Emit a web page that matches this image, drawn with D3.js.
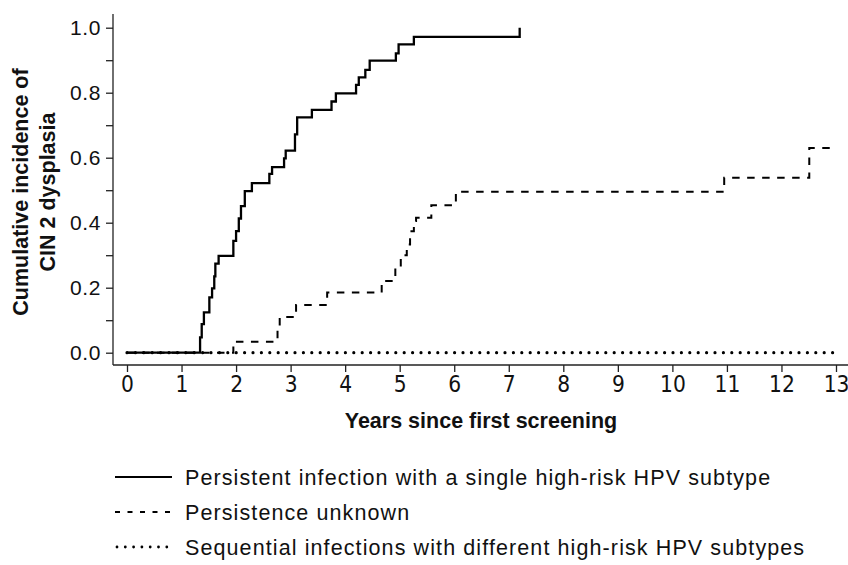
<!DOCTYPE html>
<html>
<head>
<meta charset="utf-8">
<script src="https://cdn.jsdelivr.net/npm/d3@7"></script>
<style>
  html, body { margin: 0; padding: 0; background: #fff; }
  svg { display: block; }
</style>
</head>
<body>
<svg id="chart"></svg>
<script>
// step data: [years, cumulative incidence]
const persistentSteps = [
  [0, 0], [1.34, 0.047], [1.37, 0.088], [1.41, 0.124], [1.51, 0.170], [1.56, 0.198],
  [1.60, 0.235], [1.62, 0.274], [1.68, 0.298], [1.95, 0.344], [2.00, 0.374],
  [2.05, 0.413], [2.09, 0.451], [2.16, 0.497], [2.29, 0.522], [2.61, 0.550],
  [2.66, 0.571], [2.88, 0.598], [2.91, 0.622], [3.08, 0.672], [3.12, 0.724],
  [3.39, 0.747], [3.75, 0.773], [3.83, 0.798], [4.20, 0.824], [4.25, 0.847],
  [4.37, 0.870], [4.45, 0.899], [4.93, 0.921], [4.98, 0.949], [5.26, 0.972],
  [7.20, 1.0]
];
const unknownSteps = [
  [0, 0], [1.95, 0.034], [2.76, 0.07], [2.80, 0.11], [3.10, 0.147], [3.67, 0.185],
  [4.67, 0.221], [4.92, 0.26], [5.02, 0.30], [5.13, 0.333], [5.19, 0.374],
  [5.26, 0.405], [5.30, 0.415], [5.58, 0.454], [6.03, 0.495], [10.95, 0.538],
  [12.51, 0.63], [12.89, 0.63]
];
const sequentialSteps = [[0, 0], [13.0, 0]];

const xTicks = d3.range(0, 14);
const yTicks = d3.range(0, 11).map(d => d / 10);
const yTitle = ['Cumulative incidence of', 'CIN 2 dysplasia'];
const xTitle = 'Years since first screening';
const legendLabels = [
  'Persistent infection with a single high-risk HPV subtype',
  'Persistence unknown',
  'Sequential infections with different high-risk HPV subtypes'
];

const width = 848, height = 565;
const FONT = '"Liberation Sans", Arial, Helvetica, sans-serif';
const svg = d3.select('svg#chart').attr('width', width).attr('height', height);

const x = d3.scaleLinear().domain([0, 13]).range([127, 836]);
const y = d3.scaleLinear().domain([0, 1]).range([352.7, 27.7]);
const axisX = 113, axisY = 365;

// y axis
const yAxis = d3.axisLeft(y)
  .tickValues(yTicks)
  .tickSize(7)
  .tickPadding(5)
  .tickFormat(d => Math.round(d * 10) % 2 === 0 ? d3.format('.1f')(d) : '');
const gy = svg.append('g').attr('transform', `translate(${axisX},0)`).call(yAxis);
gy.select('.domain').remove();
gy.selectAll('.tick line').attr('stroke', '#222').attr('stroke-width', 1.3);
gy.selectAll('.tick text')
  .attr('font-family', FONT).attr('font-size', 21).attr('fill', '#111')
  .attr('letter-spacing', 0.6);

// x axis
const xAxis = d3.axisBottom(x).tickValues(xTicks).tickSize(7).tickPadding(4);
const gx = svg.append('g').attr('transform', `translate(0,${axisY})`).call(xAxis);
gx.select('.domain').remove();
gx.selectAll('.tick line').attr('stroke', '#222').attr('stroke-width', 1.3);
gx.selectAll('.tick text')
  .attr('font-family', '"Liberation Sans Narrow", "DejaVu Sans Condensed", sans-serif')
  .attr('font-size', 22.5).attr('fill', '#111');

// axis lines
svg.append('line').attr('x1', axisX).attr('x2', axisX).attr('y1', 14).attr('y2', axisY)
  .attr('stroke', '#222').attr('stroke-width', 1.3);
svg.append('line').attr('x1', axisX).attr('x2', width).attr('y1', axisY).attr('y2', axisY)
  .attr('stroke', '#222').attr('stroke-width', 1.3);

// curves
const step = d3.line().x(d => x(d[0])).y(d => y(d[1])).curve(d3.curveStepAfter);
const series = [
  { data: sequentialSteps, dash: '0,8.4', width: 3.2, cap: 'round' },
  { data: unknownSteps, dash: '7.5,7.5', width: 2, cap: 'butt' },
  { data: persistentSteps, dash: null, width: 2.3, cap: 'butt' }
];
svg.append('g').selectAll('path').data(series).join('path')
  .attr('d', s => step(s.data))
  .attr('fill', 'none')
  .attr('stroke', '#000')
  .attr('stroke-width', s => s.width)
  .attr('stroke-linecap', s => s.cap)
  .attr('stroke-dasharray', s => s.dash);

// axis titles
svg.append('text')
  .attr('transform', 'translate(28,192) rotate(-90)')
  .attr('text-anchor', 'middle')
  .attr('font-family', FONT).attr('font-weight', 'bold').attr('font-size', 21.5)
  .attr('fill', '#111')
  .selectAll('tspan').data(yTitle).join('tspan')
  .attr('x', 0).attr('dy', (d, i) => i === 0 ? 0 : 27)
  .text(d => d);

svg.append('text')
  .attr('x', 481).attr('y', 428)
  .attr('text-anchor', 'middle')
  .attr('font-family', FONT).attr('font-weight', 'bold').attr('font-size', 21.5)
  .attr('fill', '#111')
  .text(xTitle);

// legend
const legendStyles = [
  { dash: null, width: 1.8, cap: 'butt' },
  { dash: '5,7.5', width: 1.8, cap: 'butt' },
  { dash: '0,8.3', width: 2.8, cap: 'round' }
];
const legend = svg.append('g').selectAll('g').data(legendLabels).join('g')
  .attr('transform', (d, i) => `translate(0,${477 + i * 35})`);
legend.append('line')
  .attr('x1', (d, i) => i === 2 ? 117 : 115).attr('x2', 172)
  .attr('stroke', '#000')
  .attr('stroke-width', (d, i) => legendStyles[i].width)
  .attr('stroke-linecap', (d, i) => legendStyles[i].cap)
  .attr('stroke-dasharray', (d, i) => legendStyles[i].dash);
legend.append('text')
  .attr('x', 185).attr('y', 8)
  .attr('font-family', FONT).attr('font-size', 21.5)
  .attr('letter-spacing', 1.1)
  .attr('fill', '#111')
  .text(d => d);
</script>
</body>
</html>
